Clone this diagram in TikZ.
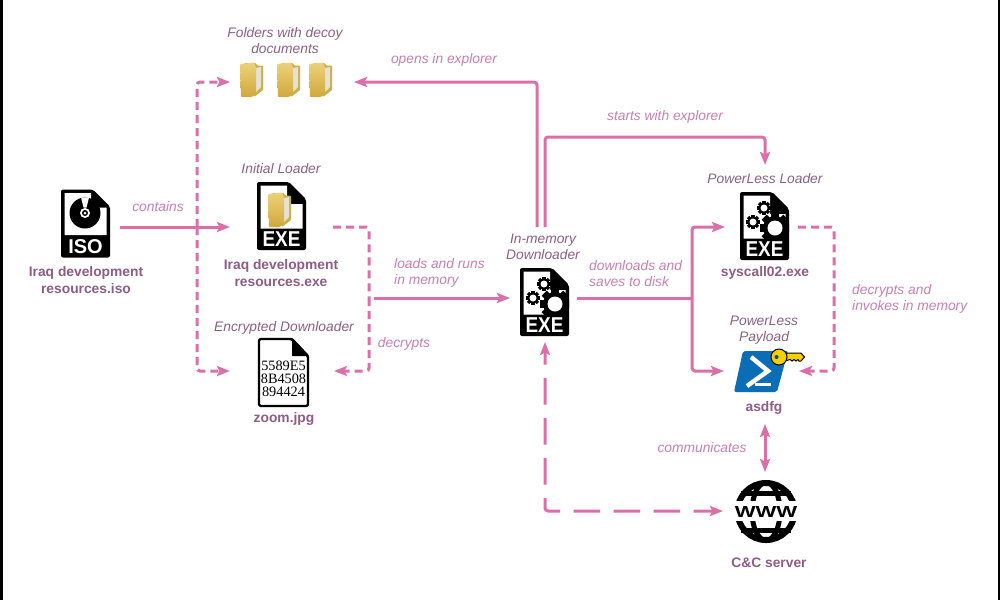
\documentclass[tikz,border=0pt]{standalone}
\usepackage{fontspec}
\setmainfont{Liberation Sans}
\newfontfamily\hexfont{Liberation Serif}
\usetikzlibrary{arrows.meta,calc}
\definecolor{linkpink}{HTML}{DD6FA8}
\definecolor{verbpink}{HTML}{C97FB5}
\definecolor{rolemauve}{HTML}{8A6087}
\definecolor{namemauve}{HTML}{8E5C85}
\definecolor{psblue}{HTML}{0B6DB5}
\definecolor{keygold}{HTML}{F5D000}
\definecolor{folderback}{HTML}{CFAE48}
\definecolor{folderpage}{HTML}{E2E2D6}
\definecolor{foldertop}{HTML}{EDD27A}
\definecolor{folderbot}{HTML}{D0A83C}
\newcommand{\gearat}[3]{% centre x, y, radius
  \fill (#1,#2) circle ({#3*0.8});
  \foreach \a in {0,45,...,315}{\fill[rotate around={\a:(#1,#2)}] (#1-#3*0.24,#2-#3*1.02) rectangle (#1+#3*0.24,#2);}
}
\tikzset{
  x=1pt,y=-1pt,
  link/.style={draw=linkpink,line width=3pt,rounded corners=3pt,-{Stealth[length=13pt,width=10pt,inset=2.5pt]}},
  both/.style={{Stealth[length=13pt,width=10pt,inset=2.5pt]}-{Stealth[length=13pt,width=10pt,inset=2.5pt]}},
  plainlink/.style={draw=linkpink,line width=3pt,rounded corners=3pt},
  shortdash/.style={dash pattern=on 8pt off 5pt},
  longdash/.style={dash pattern=on 26.5pt off 13.5pt,dash phase=13.5pt},
  port/.style={inner sep=0pt,outer sep=0pt,minimum width=#1},
  verb/.style={font=\fontsize{13.8}{16}\selectfont\itshape,text=verbpink,inner sep=0pt,yshift=-0.8pt},
  role/.style={font=\fontsize{13.8}{16}\selectfont\itshape,text=rolemauve,inner sep=0pt,align=center,yshift=-0.8pt},
  filename/.style={font=\fontsize{13.8}{17}\selectfont\bfseries,text=namemauve,inner sep=0pt,align=center,yshift=-0.8pt},
  pics/filebody/.style={code={
    \fill[black,rounded corners=2pt] (0,0)--(32,0)--(49,17)--(49,68)--(0,68)--cycle;
    \fill[white] (3.5,3.5)--(30,3.5)--(30,22)--(45.5,22)--(45.5,46.5)--(3.5,46.5)--cycle;
    \node[inner sep=0pt,text=white,font=\fontsize{#1}{#1}\selectfont\bfseries] (-lab) at (24.5,57.5) {\scalebox{0.88}[1]{EXE}};
  }},
  pics/gearset/.style={code={
    \begin{scope}
      \clip (3.5,3.5) rectangle (49,47);
      \gearat{24}{16}{6.8}
      \gearat{13}{30}{6.8}
      \gearat{35}{36}{15}
    \end{scope}
    \fill[white] (24,16) circle (3.5); \fill[white] (13,30) circle (3.5); \fill[white] (35,36) circle (7.5);
  }},
  pics/folder/.style={code={
    \fill[rounded corners=1pt,folderback] (4,1)--(16,1)--(17,3.5)--(23,3.5)--(23,28)--(14,35)--cycle;
    \fill[folderpage] (16,6)--(21,5)--(21,25)--(16,30)--cycle;
    \shade[top color=foldertop,bottom color=folderbot,rounded corners=1pt] (0,2)--(14,0.5)--(16,5)--(16,31)--(12,35)--(1,35)--cycle;
  }}
}
\begin{document}
\begin{tikzpicture}
\useasboundingbox (0,0) rectangle (1000,600);
\fill[white] (0,0) rectangle (1000,600);
\fill[black] (0,0) rectangle (3,600);
\fill[black] (997.5,0) rectangle (1000,600);

% connector anchor nodes (boxes around each icon, including the gap left to the arrows)
\node[port=70,minimum height=74pt] (iso) at (85,227) {};
\node[port=103,minimum height=68pt] (ldr) at (281.5,227) {};
\node[port=124,minimum height=36pt] (fld) at (292,82) {};
\node[port=104,minimum height=68pt] (zoomf) at (282,371) {};
\node[port=67,minimum height=68pt] (dlh) at (543.5,298) {};
\node[port=8,minimum height=115pt] (dlv) at (545,284.5) {};
\node[port=73,minimum height=68pt] (plh) at (761.5,227) {};
\node[port=8,minimum height=60pt] (plv) at (765,195) {};
\node[port=75,minimum height=42pt] (psh) at (761.5,371) {};
\node[port=8,minimum height=54pt] (psv) at (765,397) {};
\node[port=84,minimum height=78pt] (cc) at (765,511) {};
\coordinate (railL) at (197,227);
\coordinate (railM) at (369,298);
\coordinate (busA) at (374,298);
\coordinate (busB) at (692,298);
\coordinate (railR) at (834,298);

% connectors
\draw[link] (iso.east) -- (ldr.west);
\draw[link,shortdash] (railL) |- (fld.west);
\draw[link,shortdash] (railL) |- (zoomf.west);
\draw[plainlink,shortdash] (ldr.east) -| (railM);
\draw[link,shortdash] (railM) |- (zoomf.east);
\draw[link] (busA) -- (dlh.west);
\draw[link] ($(dlv.north)+(-8,0)$) |- (fld.east);
\draw[link] (dlv.north) |- ($(plv.north)+(0,-28)$) -- (plv.north);
\draw[plainlink] (dlh.east) -- (busB);
\draw[link] (busB) |- (plh.west);
\draw[link] (busB) |- (psh.west);
\draw[plainlink,shortdash] (plh.east) -| (railR);
\draw[link,shortdash] (railR) |- (psh.east);
\draw[link,both] (psv.south) -- (cc.north);
\draw[link,longdash,both] (dlv.south) |- (cc.west);

% icons
\pic at (240,62) {folder};
\pic at (277,62) {folder};
\pic at (309,62) {folder};

\begin{scope}[shift={(61,189.5)}]
  \fill[black,rounded corners=2pt] (0,0)--(32,0)--(49,17)--(49,68)--(0,68)--cycle;
  \fill[white] (3.5,3.5)--(30,3.5)--(30,18)--(45.5,18)--(45.5,45.5)--(3.5,45.5)--cycle;
  \fill[black] (24,23.5) circle (15.5);
  \fill[white] (20,8)--(28,8)--(25.5,18)--(22.5,18)--cycle;
  \fill[white] (24,23.5) circle (5);
  \fill[black] (24,23.5) circle (3);
  \fill[white] (24,23.5) circle (1.5);
  \node[inner sep=0pt,text=white,font=\fontsize{20}{20}\selectfont\bfseries] (isolab) at (24.5,57) {ISO};
\end{scope}

\pic at (257,182) {filebody=21.5};
\pic at (268,192) {folder};

\pic at (520,268) {filebody=21.5};
\pic at (520,268) {gearset};
\pic at (740,192) {filebody=21.5};
\pic at (740,192) {gearset};

% zoom.jpg icon
\begin{scope}[shift={(258,338)}]
  \draw[black,line width=2.4pt,fill=white,rounded corners=1.5pt] (1,1)--(34,1)--(50,18)--(50,68)--(1,68)--cycle;
  \fill[black] (34,0)--(51,18)--(34,18)--cycle;
  \node[inner sep=0pt,align=center,font=\hexfont\fontsize{14.3}{13}\selectfont] (hexdata) at (25.5,41) {5589E5\\8B4508\\894424};
\end{scope}

% PowerShell icon with key
\fill[psblue,rounded corners=2pt] (743,351)--(788,351)--(777,392)--(734,392)--cycle;
\draw[white,line width=4.5pt] (751,357)--(768,371)--(747,386);
\draw[white,line width=3pt] (755,384)--(771,384);
\draw[black,line width=1pt,fill=keygold]
  (785,353)--(801,353)--(804.5,357)--(801,361)--(799,361)--(798,359.5)--(796,361)--(794,359.5)--(792,361)--(790,359.5)--(785,361)--cycle;
\draw[black,line width=1pt,fill=keygold] (779,357) circle (8);
\fill[psblue!70!black] (776.5,357) circle (2);

% globe
\begin{scope}
  \draw[black,line width=6pt] (766,511.5) circle (28.5);
  \draw[black,line width=5pt] (766,511.5) ellipse (14 and 29);
  \draw[black,line width=5pt] (741,493)--(791,493);
  \draw[black,line width=5pt] (741,530)--(791,530);
  \fill[white] (732,501) rectangle (800,521);
  \node[inner sep=0pt,text=black,font=\fontsize{16}{16}\selectfont\bfseries] (wwwtext) at (766,511.5) {\scalebox{1.38}[1]{WWW}};
\end{scope}

% labels
\node[role] (tfolders) at (285,40) {Folders with decoy\\documents};
\node[role] (tinitial) at (281,168) {Initial Loader};
\node[role] (tenc) at (284,327) {Encrypted Downloader};
\node[role] (tinmem) at (543,246) {In-memory\\Downloader};
\node[role] (tplload) at (765,178) {PowerLess Loader};
\node[role] (tplpay) at (764,329.5) {PowerLess\\Payload};

\node[filename] (niso) at (86,279.5) {Iraq development\\resources.iso};
\node[filename] (nexe) at (281,272) {Iraq development\\resources.exe};
\node[filename] (nzoom) at (284,418) {zoom.jpg};
\node[filename] (nsys) at (765,272) {syscall02.exe};
\node[filename] (nasd) at (764,407) {asdfg};
\node[filename] (ncc) at (769,562) {C\&C server};

\node[verb] (vcont) at (158,206) {contains};
\node[verb] (vopen) at (444,59) {opens in explorer};
\node[verb] (vstart) at (665,116) {starts with explorer};
\node[verb,align=left,anchor=west] (vload) at (394,272) {loads and runs\\in memory};
\node[verb] (vdec) at (404,343) {decrypts};
\node[verb,align=left,anchor=west] (vdown) at (589,273) {downloads and\\saves to disk};
\node[verb,align=left,anchor=west] (vinv) at (852,298) {decrypts and\\invokes in memory};
\node[verb] (vcomm) at (702,447) {communicates};
\end{tikzpicture}
\end{document}
